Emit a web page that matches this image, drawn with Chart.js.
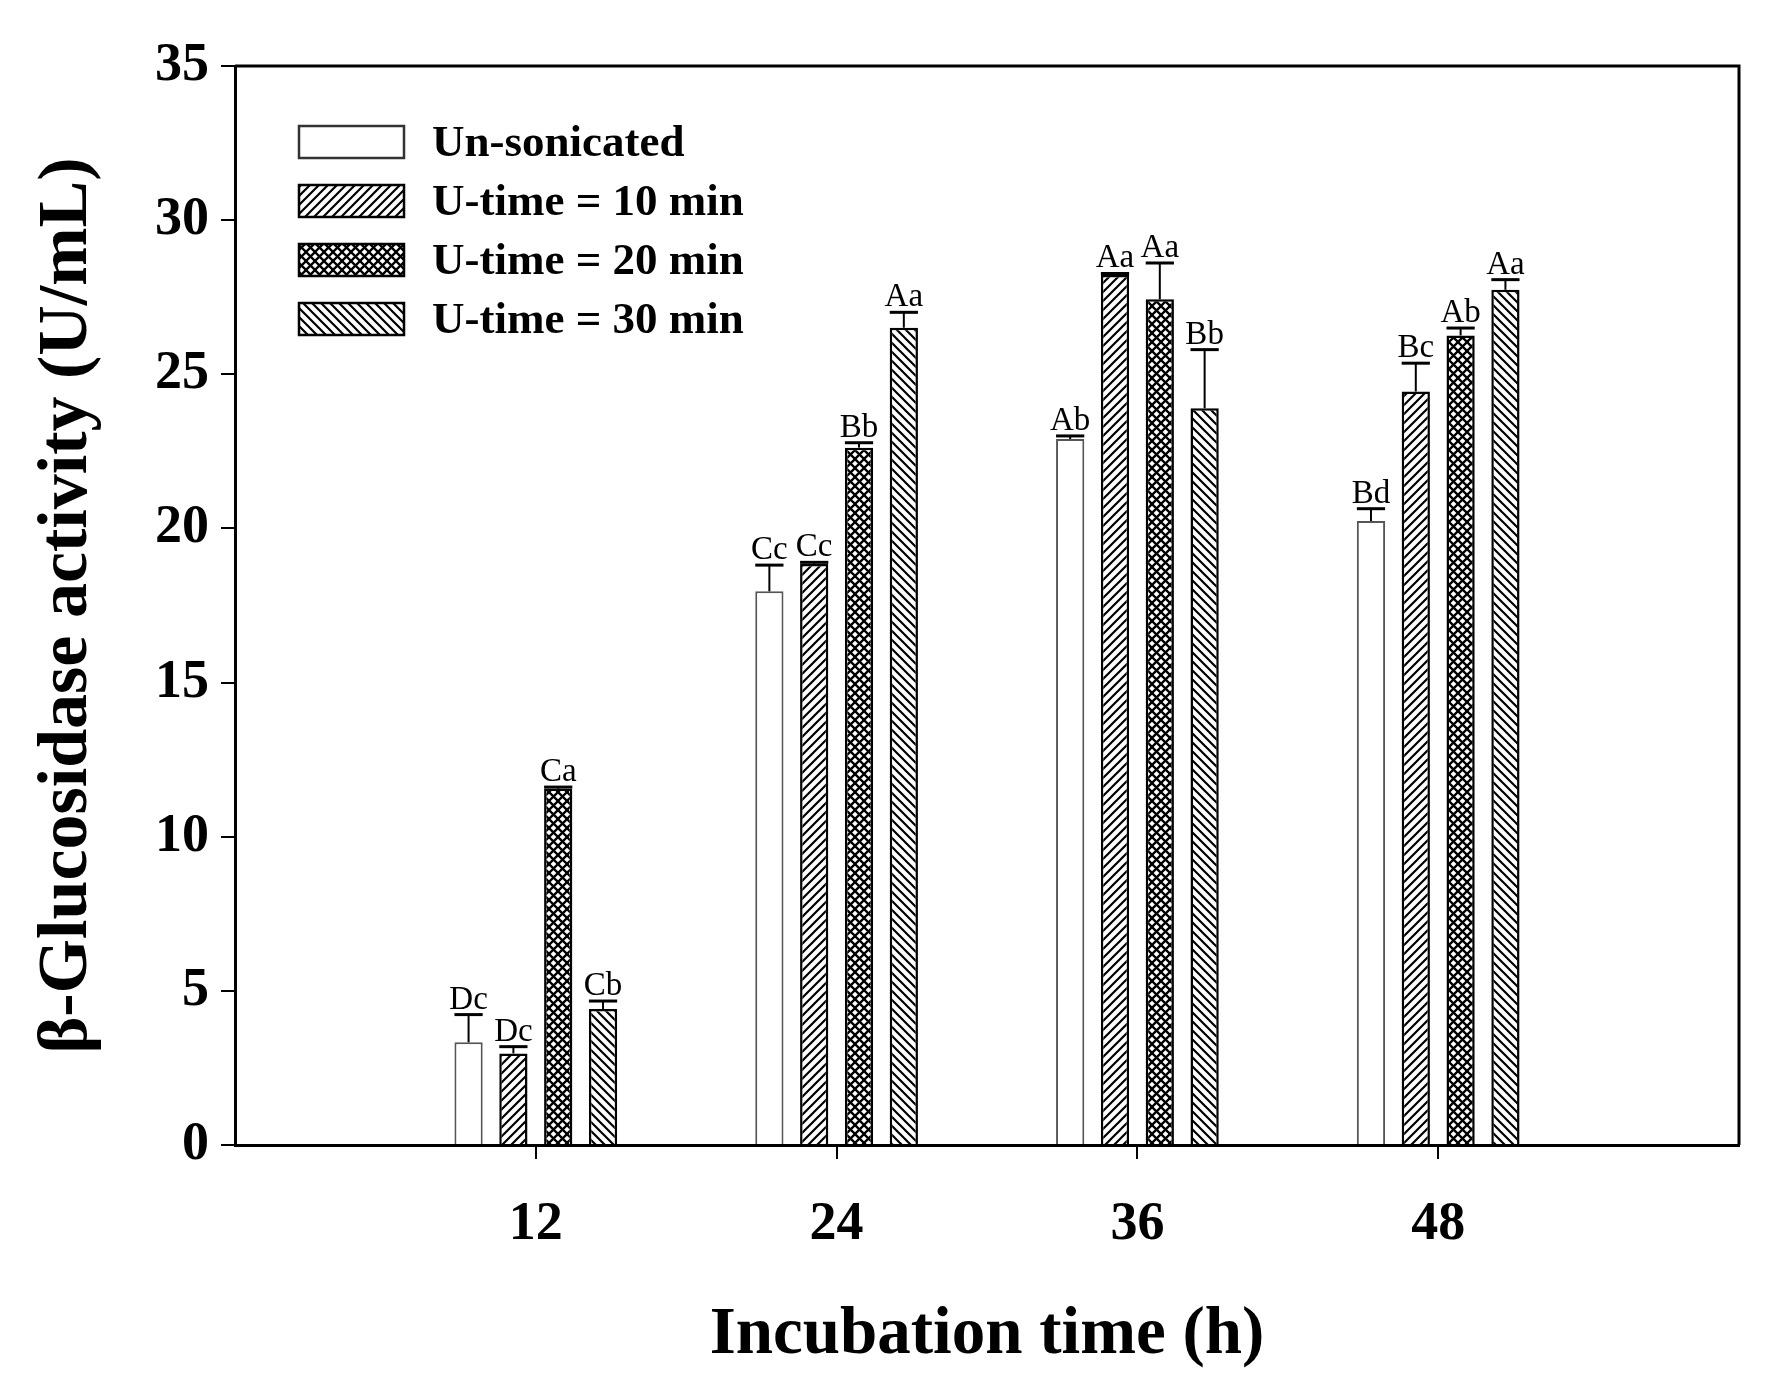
<!DOCTYPE html>
<html>
<head>
<meta charset="utf-8">
<script src="https://cdn.jsdelivr.net/npm/chart.js@4.4.1/dist/chart.umd.min.js"></script>
<style>
  html, body { margin: 0; padding: 0; background: #fff; }
  #wrap { width: 1773px; height: 1391px; position: relative; }
</style>
</head>
<body>
<div id="wrap"><canvas id="grafico"></canvas></div>
<script>
// incubation times (h), ends are empty slots so 12..48 sit at 1/5..4/5 of the axis
const horas = ['0', '12', '24', '36', '48', '60'];
const series = ['Un-sonicated', 'U-time = 10 min', 'U-time = 20 min', 'U-time = 30 min'];

// valores (U/mL) para 12, 24, 36, 48 h
const unSonicated = [3.33, 17.96, 22.9, 20.24];
const uTime10 = [2.97, 18.85, 28.22, 24.44];
const uTime20 = [11.56, 22.62, 27.43, 26.26];
const uTime30 = [4.41, 26.51, 23.9, 27.74];

// desvio (somente para cima)
const errUnSonicated = [0.9, 0.85, 0.1, 0.4];
const errTime10 = [0.22, 0.05, 0.05, 0.92];
const errTime20 = [0.05, 0.16, 1.18, 0.24];
const errTime30 = [0.26, 0.5, 1.9, 0.33];

// letras de significância
const letUnSonicated = ['Dc', 'Cc', 'Ab', 'Bd'];
const letTime10 = ['Dc', 'Cc', 'Aa', 'Bc'];
const letTime20 = ['Ca', 'Bb', 'Aa', 'Ab'];
const letTime30 = ['Cb', 'Aa', 'Bb', 'Aa'];

const yTicks = [0, 5, 10, 15, 20, 25, 30, 35];

const serif = "'Liberation Serif', 'Times New Roman', serif";

function pad(arr) {
    return [null].concat(arr, [null]);
}

// padrões de hachura
function hatch(tipo) {
    const s = 9;
    const c = document.createElement('canvas');
    c.width = s; c.height = s;
    const g = c.getContext('2d');
    g.fillStyle = '#fff';
    g.fillRect(0, 0, s, s);
    if (tipo == 'none') return g.createPattern(c, 'repeat');
    g.strokeStyle = '#000';
    g.lineWidth = tipo == 'cross' ? 2.3 : 2.2;
    if (tipo == 'fwd' || tipo == 'cross') {
        g.beginPath();
        g.moveTo(-1, s + 1); g.lineTo(s + 1, -1);
        g.moveTo(-2, 2); g.lineTo(2, -2);
        g.moveTo(s - 2, s + 2); g.lineTo(s + 2, s - 2);
        g.stroke();
    }
    if (tipo == 'back' || tipo == 'cross') {
        g.beginPath();
        g.moveTo(-1, -1); g.lineTo(s + 1, s + 1);
        g.moveTo(-2, s - 2); g.lineTo(2, s + 2);
        g.moveTo(s - 2, -2); g.lineTo(s + 2, 2);
        g.stroke();
    }
    return g.createPattern(c, 'repeat');
}

const fills = [hatch('none'), hatch('fwd'), hatch('cross'), hatch('back')];
const borders = ['#555', '#000', '#000', '#000'];
const valores = [unSonicated, uTime10, uTime20, uTime30];
const erros = [errUnSonicated, errTime10, errTime20, errTime30];
const letras = [letUnSonicated, letTime10, letTime20, letTime30];

const datasets = series.map(function (nome, i) {
    return {
        label: nome,
        data: pad(valores[i]),
        erro: pad(erros[i]),
        letras: pad(letras[i]),
        backgroundColor: fills[i],
        borderColor: borders[i],
        borderWidth: i == 0 ? 2 : 2.5,
        categoryPercentage: 0.596,
        barPercentage: 0.63
    };
});

// barras de erro + letras
const errorBars = {
    id: 'errorBars',
    afterDatasetsDraw(chart) {
        const ctx = chart.ctx;
        const y = chart.scales.y;
        ctx.save();
        chart.data.datasets.forEach(function (ds, i) {
            const meta = chart.getDatasetMeta(i);
            meta.data.forEach(function (bar, j) {
                const v = ds.data[j];
                if (v === null || v === undefined) return;
                const top = y.getPixelForValue(v + ds.erro[j]);
                const half = bar.width / 2;
                ctx.strokeStyle = '#000';
                ctx.lineWidth = 2;
                ctx.beginPath();
                ctx.moveTo(bar.x, bar.y);
                ctx.lineTo(bar.x, top);
                ctx.stroke();
                ctx.lineWidth = 3;
                ctx.beginPath();
                ctx.moveTo(bar.x - half, top);
                ctx.lineTo(bar.x + half, top);
                ctx.stroke();
                ctx.fillStyle = '#000';
                ctx.font = '33px ' + serif;
                ctx.textAlign = 'center';
                ctx.textBaseline = 'alphabetic';
                ctx.fillText(ds.letras[j], bar.x, top - 6);
            });
        });
        ctx.restore();
    }
};

// moldura superior e direita + legenda dentro da área
const moldura = {
    id: 'moldura',
    afterDraw(chart) {
        const ctx = chart.ctx;
        const a = chart.chartArea;
        ctx.save();
        ctx.strokeStyle = '#000';
        ctx.lineWidth = 3;
        ctx.beginPath();
        ctx.moveTo(a.left, a.top);
        ctx.lineTo(a.right, a.top);
        ctx.lineTo(a.right, a.bottom);
        ctx.stroke();

        chart.data.datasets.forEach(function (ds, i) {
            const bx = a.left + 64;
            const cy = a.top + 76 + i * 59;
            ctx.fillStyle = ds.backgroundColor;
            ctx.fillRect(bx, cy - 16, 105, 32);
            ctx.lineWidth = 2.5;
            ctx.strokeStyle = i == 0 ? '#333' : '#000';
            ctx.strokeRect(bx, cy - 16, 105, 32);
            ctx.fillStyle = '#000';
            ctx.font = 'bold 45px ' + serif;
            ctx.textAlign = 'left';
            ctx.textBaseline = 'middle';
            ctx.fillText(ds.label, bx + 133, cy + 2);
        });
        ctx.restore();
    }
};

const config = {
    type: 'bar',
    data: { labels: horas, datasets: datasets },
    options: {
        responsive: true,
        maintainAspectRatio: false,
        animation: false,
        layout: { padding: { left: 0, top: 66, right: 28, bottom: 0 } },
        plugins: {
            legend: { display: false },
            tooltip: { enabled: false }
        },
        scales: {
            x: {
                type: 'category',
                offset: false,
                grid: {
                    offset: false,
                    drawOnChartArea: false,
                    drawTicks: true,
                    tickLength: 14,
                    lineWidth: 2,
                    color: function (c) {
                        return (c.index == 0 || c.index == horas.length - 1) ? 'rgba(0,0,0,0)' : '#000';
                    }
                },
                border: { display: true, color: '#000', width: 3 },
                ticks: {
                    color: '#000',
                    padding: 34,
                    maxRotation: 0,
                    autoSkip: false,
                    font: { family: serif, size: 54, weight: 'bold' },
                    callback: function (val, idx) {
                        return (idx == 0 || idx == horas.length - 1) ? '' : horas[idx];
                    }
                },
                title: {
                    display: true,
                    text: 'Incubation time (h)',
                    color: '#000',
                    font: { family: serif, size: 67, weight: 'bold' },
                    padding: { top: 0, bottom: 15 }
                },
                afterFit: function (scale) { scale.height = 246; }
            },
            y: {
                min: 0,
                max: 35,
                afterBuildTicks: function (scale) {
                    scale.ticks = yTicks.map(function (v) { return { value: v }; });
                },
                grid: {
                    drawOnChartArea: false,
                    drawTicks: true,
                    tickLength: 14,
                    lineWidth: 2,
                    color: '#000'
                },
                border: { display: true, color: '#000', width: 3 },
                ticks: {
                    color: '#000',
                    padding: 12,
                    font: { family: serif, size: 54, weight: 'bold' }
                },
                title: {
                    display: true,
                    text: 'β-Glucosidase activity (U/mL)',
                    color: '#000',
                    font: { family: serif, size: 70, weight: 'bold' },
                    padding: { top: 26, bottom: 0 }
                },
                afterFit: function (scale) { scale.width = 235; }
            }
        }
    },
    plugins: [errorBars, moldura]
};

new Chart(document.getElementById('grafico'), config);
</script>
</body>
</html>
